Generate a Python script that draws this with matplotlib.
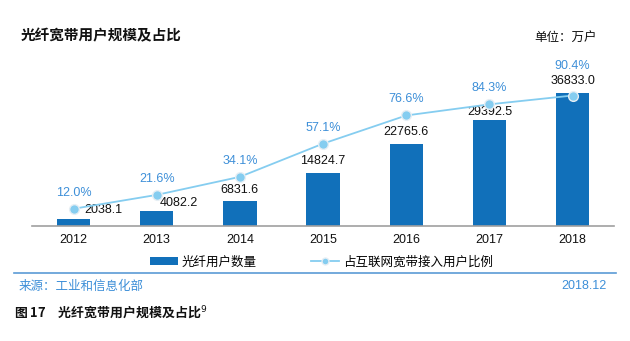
import matplotlib
matplotlib.use("Agg")
import matplotlib.pyplot as plt
from matplotlib.lines import Line2D
from matplotlib.patches import Patch

plt.rcParams["font.family"] = ["Liberation Sans", "Noto Sans CJK SC", "DejaVu Sans"]

years = ["2012", "2013", "2014", "2015", "2016", "2017", "2018"]
fiber_users = [2038.1, 4082.2, 6831.6, 14824.7, 22765.6, 29392.5, 36833.0]
fiber_share = [12.0, 21.6, 34.1, 57.1, 76.6, 84.3, 90.4]

bar_color = "#1170ba"
line_color = "#85cdf0"
pct_color = "#3d8fd8"
cjk = ["Noto Sans CJK SC", "DejaVu Sans"]

fig = plt.figure(figsize=(6.3, 3.41), dpi=100)
ax = fig.add_axes([0.0508, 0.337, 0.924, 0.487])
ax2 = ax.twinx()

x = list(range(len(years)))
ax.bar(x, fiber_users, width=0.4, color=bar_color, zorder=2)
ax.set_xlim(-0.5, 6.5)
ax.set_ylim(0, 46000)
ax2.set_ylim(0, 115)

ax2.plot(x, fiber_share, color=line_color, lw=1.3, marker="o", ms=7,
         mfc=line_color, mec="#e6eef4", mew=1.0, zorder=3)

# value labels: first two sit to the right of the dot, the rest above the bar
for i, v in enumerate(fiber_users):
    if i < 2:
        dx = 8 if i == 0 else 2
        ax.annotate(f"{v:.1f}", (i, v), xytext=(dx, 6), textcoords="offset points",
                    ha="left", va="center", fontsize=9, color="#111111")
    else:
        dy = 6 if i == 5 else 8.5
        ax.annotate(f"{v:.1f}", (i, v), xytext=(0, dy), textcoords="offset points",
                    ha="center", va="center", fontsize=9, color="#111111")

for i, p in enumerate(fiber_share):
    dy = 21 if i == 6 else 11.5
    ax2.annotate(f"{p:.1f}%", (i, p), xytext=(0, dy), textcoords="offset points",
                 ha="center", va="center", fontsize=9, color=pct_color)

for a in (ax, ax2):
    for s in ("top", "right", "left"):
        a.spines[s].set_visible(False)
    a.set_yticks([])
ax.spines["bottom"].set_color("#a0a0a0")
ax.spines["bottom"].set_linewidth(1.2)
ax2.spines["bottom"].set_visible(False)
ax.set_xticks(x)
ax.set_xticklabels(years, fontsize=9, color="#111111")
ax.tick_params(axis="x", length=0, pad=6)

handles = [Patch(facecolor=bar_color, label="光纤用户数量"),
           Line2D([0], [0], color=line_color, lw=1.3, marker="o", ms=5,
                  mfc=line_color, mec="#e6eef4", label="占互联网宽带接入用户比例")]
fig.legend(handles=handles, loc="center", bbox_to_anchor=(0.51, 0.232), ncol=2,
           frameon=False, prop={"family": cjk, "size": 9}, handlelength=2.2,
           handleheight=0.55, columnspacing=4.4, handletextpad=0.3)

fig.add_artist(Line2D([0.022, 0.978], [0.199, 0.199], color="#5b9bd5", lw=1.2))
fig.text(0.03, 0.161, "来源：工业和信息化部", family=cjk, fontsize=9, color="#3d8fd8",
         va="center", ha="left")
fig.text(0.963, 0.161, "2018.12", fontsize=9, color="#3d8fd8", va="center", ha="right")

fig.text(0.033, 0.897, "光纤宽带用户规模及占比", family=cjk, fontsize=10.5,
         fontweight="bold", color="#111111", va="center", ha="left")
fig.text(0.948, 0.886, "单位：万户", family=cjk, fontsize=9, color="#111111",
         va="center", ha="right")
fig.text(0.023, 0.086, "图 17　光纤宽带用户规模及占比$^9$", family=cjk, fontsize=9.3,
         fontweight="bold", color="#111111", va="center", ha="left")

fig.savefig("out.png", dpi=100)
